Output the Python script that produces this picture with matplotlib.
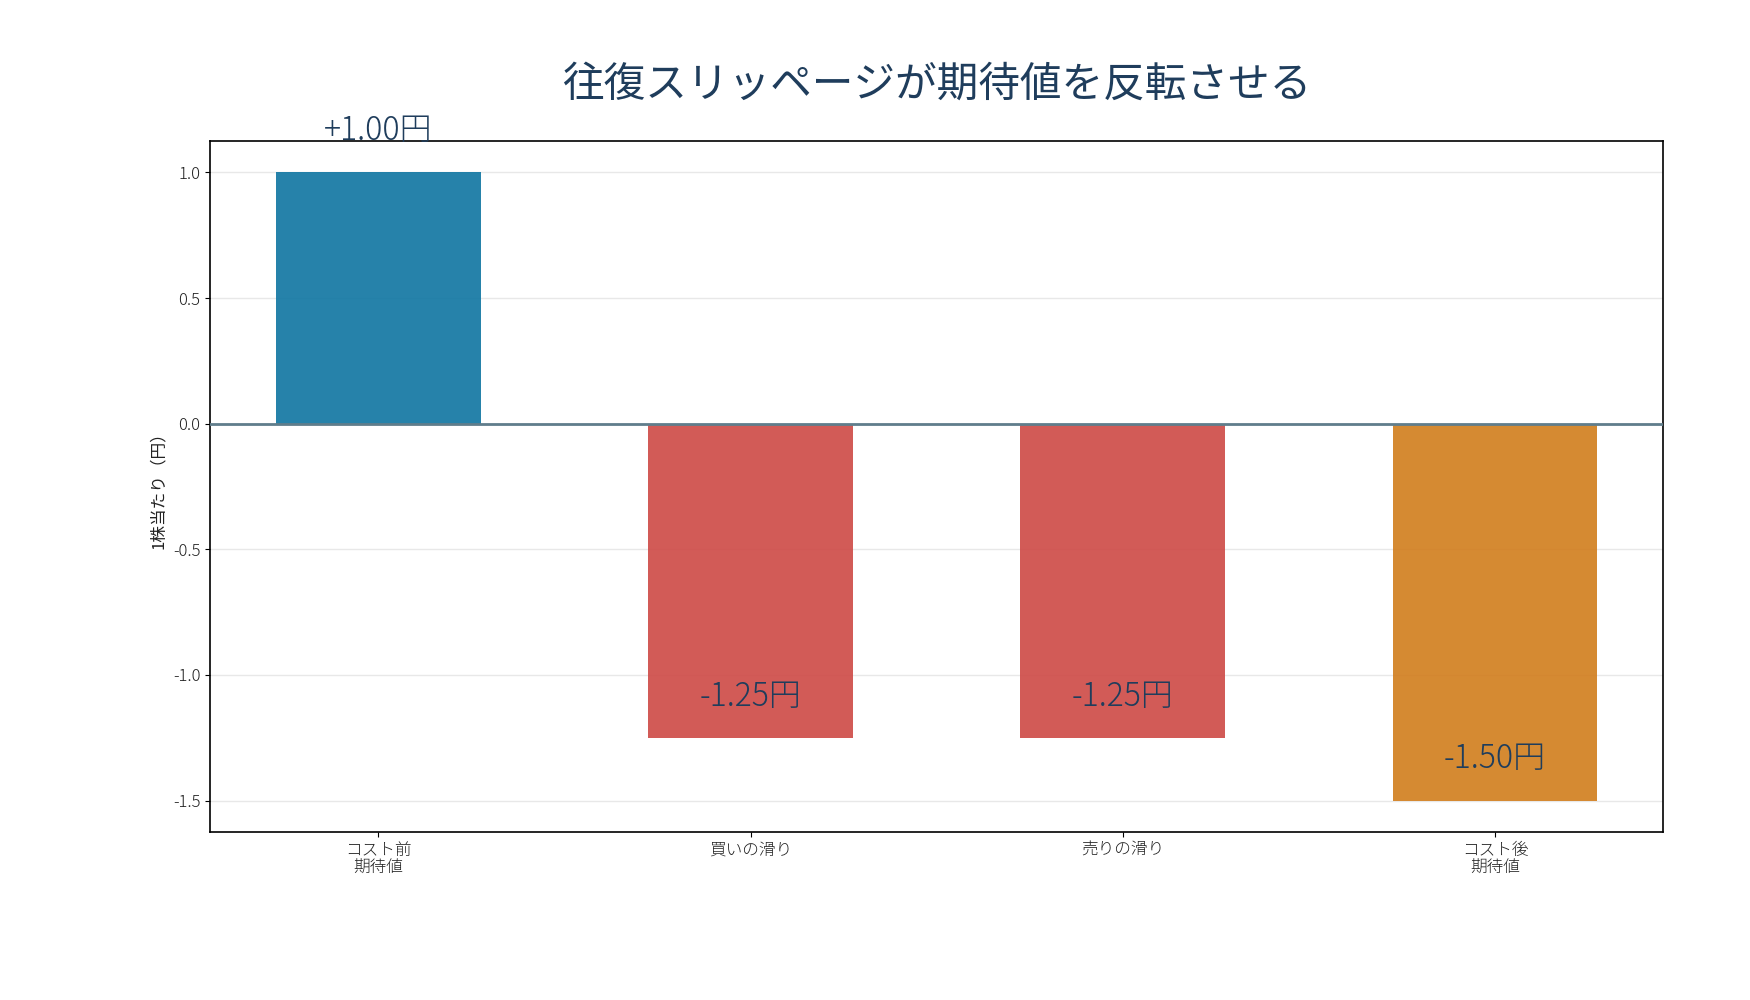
import matplotlib.pyplot as plt
import numpy as np

plt.rcParams['font.family'] = ['Noto Sans CJK JP', 'DejaVu Sans']
plt.rcParams['font.weight'] = 'light'
plt.rcParams['axes.unicode_minus'] = False

categories = ['コスト前\n期待値', '買いの滑り', '売りの滑り', 'コスト後\n期待値']
values = [1.00, -1.25, -1.25, -1.50]
value_labels = ['+1.00円', '-1.25円', '-1.25円', '-1.50円']
colors = ['#0e75a1', '#ce4945', '#ce4945', '#d17d1c']

fig = plt.figure(figsize=(17.5, 10), dpi=100)
ax = fig.add_axes([0.12, 0.168, 0.8305, 0.691])

x = np.arange(len(categories))
ax.bar(x, values, width=0.55, color=colors, alpha=0.9, zorder=2)
ax.axhline(0, color='#607d8b', linewidth=2, zorder=3)

for xi, v, lab in zip(x, values, value_labels):
    ax.text(xi, v + 0.165, lab, ha='center', va='center',
            fontsize=23, color='#1f3d5c', zorder=4)

ax.set_xticks(x)
ax.set_xticklabels(categories, fontsize=12, color='#222222', linespacing=1.1)
ax.set_yticks([-1.5, -1.0, -0.5, 0.0, 0.5, 1.0])
ax.tick_params(axis='y', labelsize=12, labelcolor='#222222')
ax.set_ylabel('1株当たり（円）', fontsize=12, color='#222222')
ax.yaxis.grid(True, color='#e8e8e8', linewidth=1, zorder=0)
ax.set_axisbelow(True)
for s in ax.spines.values():
    s.set_linewidth(1.2)

ax.set_title('往復スリッページが期待値を反転させる', fontsize=30,
             color='#1f3d5c', pad=32)

plt.savefig('out.png', dpi=100)
